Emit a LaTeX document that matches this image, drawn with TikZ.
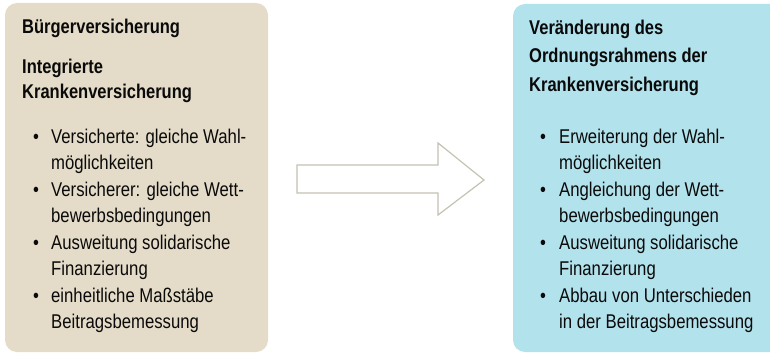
\documentclass[tikz,border=0pt]{standalone}
\usepackage{fontspec}
\newfontfamily\regf{Liberation Sans}[FakeStretch=0.84]
\newfontfamily\boldf{Liberation Sans}[FakeStretch=0.83]
\definecolor{beige}{RGB}{228,220,200}
\definecolor{lblue}{RGB}{178,226,236}
\definecolor{arrowgray}{RGB}{197,194,178}
\definecolor{txtc}{RGB}{10,10,10}
\tikzset{
  boxfill/.style={rounded corners=12pt},
  ttl/.style={anchor=base west, inner sep=0pt, text=txtc, font=\boldf\bfseries\fontsize{19.9}{22}\selectfont},
  itm/.style={anchor=base west, inner sep=0pt, text=txtc, font=\regf\fontsize{19.9}{22}\selectfont},
  bul/.style={anchor=base, inner sep=0pt, text=txtc, font=\regf\fontsize{19.9}{22}\selectfont}
}
\begin{document}
\begin{tikzpicture}[x=1pt,y=-1pt]
\useasboundingbox (0,0) rectangle (770,353);
% boxes
\fill[beige, boxfill] (5,3) rectangle (268,352);
\fill[lblue, boxfill] (513,4) rectangle (782,352);
% arrow
\draw[arrowgray, line width=1.2pt, line join=miter]
  (297,165) -- (438,165) -- (438,143) -- (484,180) -- (438,215) -- (438,193) -- (297,193) -- cycle;
% left texts
\node[ttl] (lt1) at (22,34) {Bürgerversicherung};
\node[ttl] (lt2) at (22,73) {Integrierte};
\node[ttl] (lt3) at (22,98) {Krankenversicherung};
\foreach \y/\b/\t [count=\i] in {
  143/1/Versicherte: gleiche Wahl-,
  169.5/0/möglichkeiten,
  196/1/Versicherer: gleiche Wett-,
  222.5/0/bewerbsbedingungen,
  249/1/Ausweitung solidarische,
  275.5/0/Finanzierung,
  302/1/einheitliche Maßstäbe,
  328.5/0/Beitragsbemessung}{
  \node[itm] (li\i) at (51,\y) {\t};
  \ifnum\b=1 \node[bul] (lb\i) at (36,\y) {\textbullet}; \fi
}
% right texts
\node[ttl] (rt1) at (529,35) {Veränderung des};
\node[ttl] (rt2) at (529,63) {Ordnungsrahmens der};
\node[ttl] (rt3) at (529,91) {Krankenversicherung};
\foreach \y/\b/\t [count=\i] in {
  143/1/Erweiterung der Wahl-,
  169.5/0/möglichkeiten,
  196/1/Angleichung der Wett-,
  222.5/0/bewerbsbedingungen,
  249/1/Ausweitung solidarische,
  275.5/0/Finanzierung,
  302/1/Abbau von Unterschieden,
  328.5/0/in der Beitragsbemessung}{
  \node[itm] (ri\i) at (559,\y) {\t};
  \ifnum\b=1 \node[bul] (rb\i) at (543,\y) {\textbullet}; \fi
}
\end{tikzpicture}
\end{document}
